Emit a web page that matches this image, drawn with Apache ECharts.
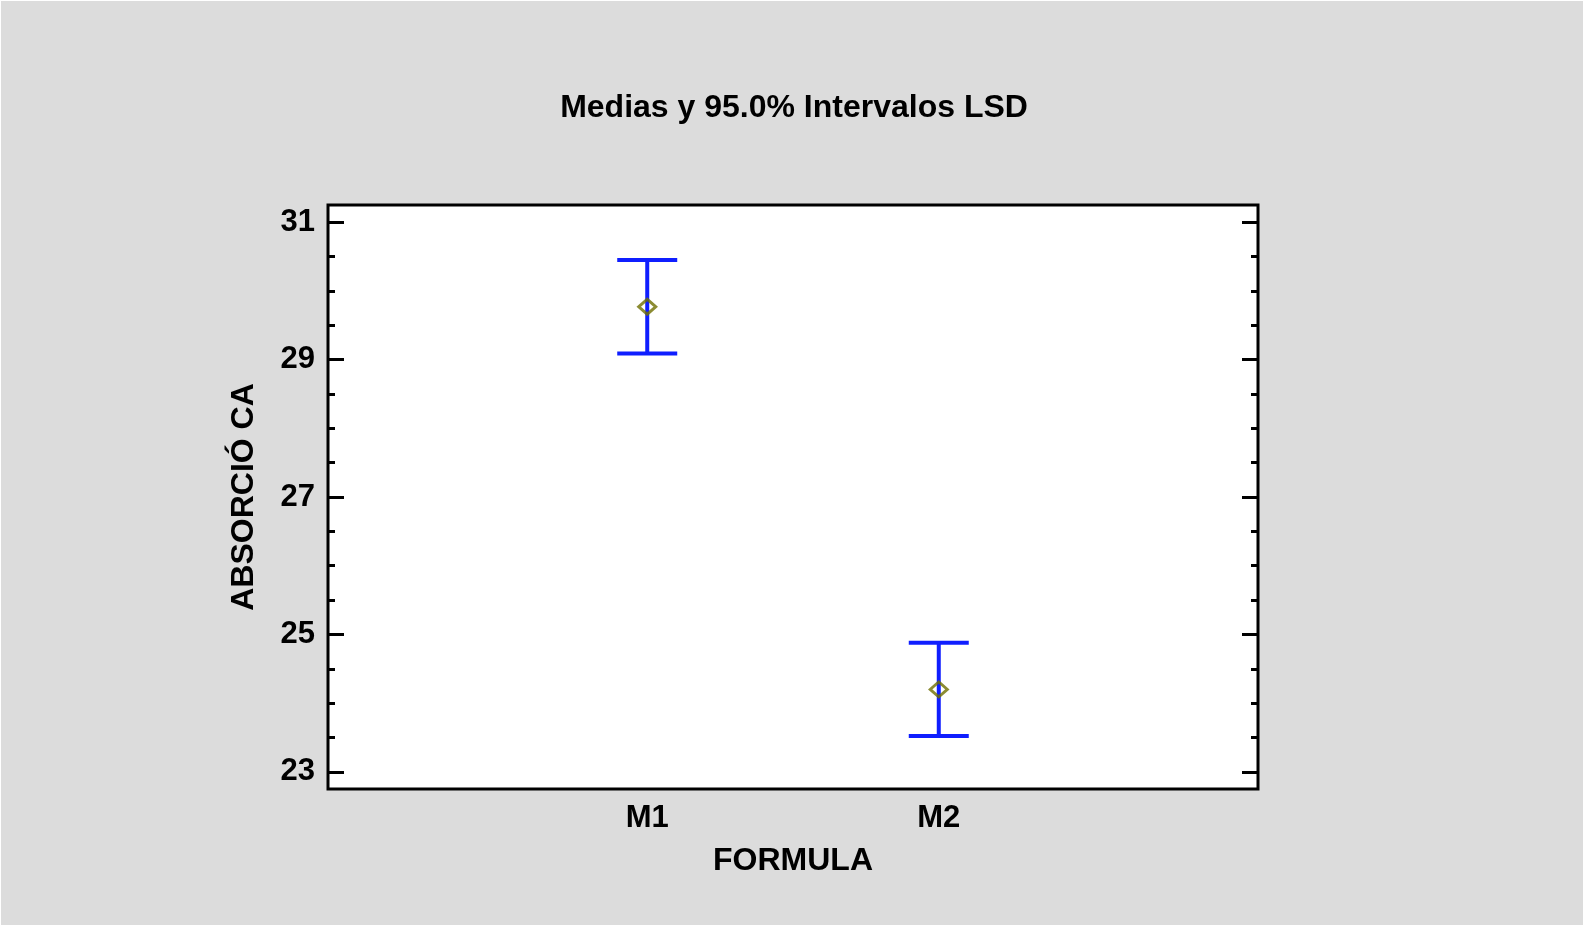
<!DOCTYPE html>
<html>
<head>
<meta charset="utf-8">
<script src="https://cdn.jsdelivr.net/npm/echarts@6/dist/echarts.min.js"></script>
<style>
html,body{margin:0;padding:0;background:#ffffff;}
#chart{width:1588px;height:934px;}
</style>
</head>
<body>
<div id="chart"></div>
<script>
// ---- data ----
const categories = ['M1', 'M2'];
const means = [29.77, 24.20];
const lower = [29.09, 23.52];
const upper = [30.45, 24.88];
const yMajorTicks = [23, 25, 27, 29, 31];
const yMinorTicks = [23.5, 24, 24.5, 25.5, 26, 26.5, 27.5, 28, 28.5, 29.5, 30, 30.5];
const titleText = 'Medias y 95.0% Intervalos LSD';
const xName = 'FORMULA';
const yName = 'ABSORCIÓ CA';

const FONT = '"Liberation Sans", Arial, sans-serif';
const Y_MIN = 22.75, Y_MAX = 31.25;
const X_MIN = -0.095, X_MAX = 3.095;

const barData = categories.map((c, i) => [i + 1, means[i], lower[i], upper[i]]);
const meanData = categories.map((c, i) => [i + 1, means[i]]);

function yAxisDef(pos, ticks, len, showLabel) {
  return {
    type: 'value', position: pos, min: Y_MIN, max: Y_MAX,
    axisLine: { show: false, onZero: false },
    splitLine: { show: false },
    axisTick: { show: true, inside: true, length: len, customValues: ticks,
      lineStyle: { color: '#000', width: 3 } },
    axisLabel: { show: showLabel, customValues: ticks, margin: 13,
      color: '#000', fontFamily: FONT, fontWeight: 'bold', fontSize: 31 },
  };
}

const chart = echarts.init(document.getElementById('chart'), null, { renderer: 'canvas' });
const yAxes = [
  Object.assign(yAxisDef('left', yMajorTicks, 16, true), {
    name: yName, nameLocation: 'middle', nameGap: 68, nameRotate: 90,
    nameTextStyle: { color: '#000', fontFamily: FONT, fontWeight: 'bold', fontSize: 32 }
  }),
  yAxisDef('left', yMinorTicks, 7, false),
  yAxisDef('right', yMajorTicks, 16, false),
  yAxisDef('right', yMinorTicks, 7, false)
];

chart.setOption({
  backgroundColor: '#ffffff',
  animation: false,
  graphic: [{
    type: 'rect', z: -10, silent: true,
    shape: { x: 1, y: 1, width: 1582, height: 924 },
    style: { fill: '#dcdcdc' }
  }],
  title: {
    text: titleText, left: 'center', top: 87,
    textStyle: { color: '#000', fontFamily: FONT, fontWeight: 'bold', fontSize: 32 }
  },
  grid: {
    left: 328, right: 330, top: 205, bottom: 145,
    show: true, backgroundColor: '#ffffff', borderColor: '#000', borderWidth: 3
  },
  xAxis: {
    type: 'value', min: X_MIN, max: X_MAX,
    axisLine: { show: false, onZero: false }, splitLine: { show: false },
    axisTick: { show: false },
    axisLabel: {
      customValues: [1, 2], margin: 14,
      formatter: v => categories[Math.round(v) - 1] || '',
      color: '#000', fontFamily: FONT, fontWeight: 'bold', fontSize: 31
    },
    name: xName, nameLocation: 'middle', nameGap: 56,
    nameTextStyle: { color: '#000', fontFamily: FONT, fontWeight: 'bold', fontSize: 32 }
  },
  yAxis: yAxes,
  series: [
    {
      type: 'custom', yAxisIndex: 0, data: barData, z: 2,
      encode: { x: 0, y: [1, 2, 3] },
      renderItem: function (params, api) {
        const x = api.value(0);
        const lo = api.coord([x, api.value(2)]);
        const hi = api.coord([x, api.value(3)]);
        const hw = 30;
        const style = { stroke: '#0f1eff', lineWidth: 4 };
        return {
          type: 'group',
          children: [
            { type: 'line', shape: { x1: lo[0], y1: lo[1], x2: hi[0], y2: hi[1] }, style: style },
            { type: 'line', shape: { x1: lo[0] - hw, y1: lo[1], x2: lo[0] + hw, y2: lo[1] }, style: style },
            { type: 'line', shape: { x1: hi[0] - hw, y1: hi[1], x2: hi[0] + hw, y2: hi[1] }, style: style }
          ]
        };
      }
    },
    {
      type: 'scatter', yAxisIndex: 0, data: meanData, z: 3,
      symbol: 'diamond', symbolSize: [17, 15],
      itemStyle: { color: 'rgba(0,0,0,0)', borderColor: '#6f6f00', borderWidth: 3 }
    }
  ]
});
</script>
</body>
</html>
